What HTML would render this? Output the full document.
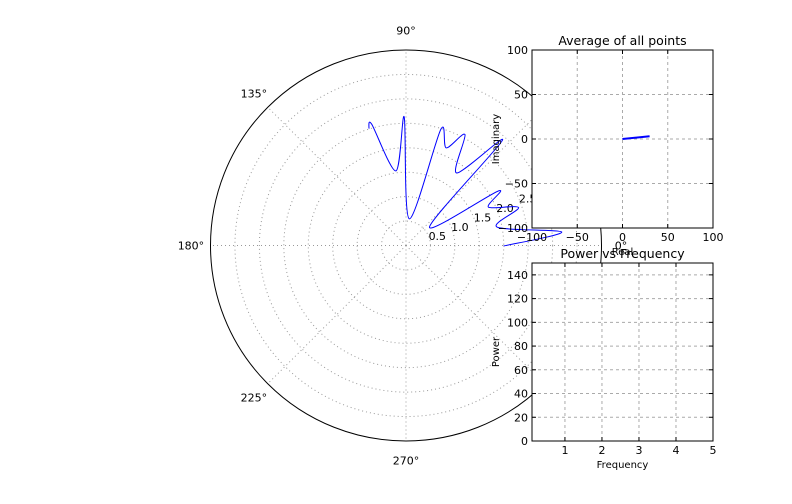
<!DOCTYPE html>
<html><head><meta charset="utf-8"><style>
html,body{margin:0;padding:0;background:#fff}
svg{display:block;font-family:"DejaVu Sans","Liberation Sans",sans-serif}
</style></head><body>
<svg id="chart" width="792" height="504" viewBox="0 0 792 504" xmlns="http://www.w3.org/2000/svg">
<rect width="792" height="504" fill="#fff"/>
<g id="polar"></g>
<g id="avg"></g>
<g id="power"></g>
</svg>
<script>
// Polar curve data (angle in degrees, radius)
const polarTheta = [-0.3, 4.9, 11.4, 18.6, 25, 30.5, 38, 47.5, 55, 62, 67.6, 73.3, 83, 90.8, 97.7, 105.8, 107.6];
const polarR = [2.0, 3.2, 1.9, 2.43, 1.86, 2.2, 0.61, 2.92, 1.81, 2.57, 2.16, 2.48, 0.55, 2.63, 1.54, 2.58, 2.51];
const radialTicks = [0.5, 1.0, 1.5, 2.0, 2.5, 3.0, 3.5];
const angleTicks = [0, 45, 90, 135, 180, 225, 270, 315];
// Average plot
const avgX = [0, 30];
const avgY = [0, 3];
const avgXTicks = [-100, -50, 0, 50, 100];
const avgYTicks = [-100, -50, 0, 50, 100];
// Power plot
const powXTicks = [1, 2, 3, 4, 5];
const powYTicks = [0, 20, 40, 60, 80, 100, 120, 140];

const NS = "http://www.w3.org/2000/svg";
function mk(parent, tag, attrs, text) {
  const e = document.createElementNS(NS, tag);
  for (const k in attrs) e.setAttribute(k, attrs[k]);
  if (text !== undefined) e.textContent = text;
  parent.appendChild(e);
  return e;
}

// ---------- Polar ----------
const P = document.getElementById('polar');
const cx = 406, cy = 245.5, R = 195.5, rMax = 4.0;
const pr = r => r / rMax * R;
function pxy(deg, r) { const a = deg * Math.PI / 180; return [cx + pr(r) * Math.cos(a), cy - pr(r) * Math.sin(a)]; }
radialTicks.forEach(t => {
  const c = mk(P, 'circle', {cx, cy, r: pr(t), fill: 'none', stroke: '#999', 'stroke-width': 1, 'stroke-dasharray': '1,3'});
  
  
});
angleTicks.forEach(a => {
  const [x, y] = pxy(a, rMax);
  const l = mk(P, 'line', {x1: cx, y1: cy, x2: x, y2: y, stroke: '#999', 'stroke-width': 1, 'stroke-dasharray': '1,3'});
  
  
});
const outer = mk(P, 'circle', {cx, cy, r: R, fill: 'none', stroke: '#000', 'stroke-width': 1});


angleTicks.forEach(a => {
  const [x, y] = pxy(a, rMax * 1.1);
  const t = mk(P, 'text', {x, y: y + 4, 'font-size': 11, 'text-anchor': 'middle', fill: '#000'}, a + '°');
  
  
});
radialTicks.forEach(t => {
  const [x, y] = pxy(22.5, t);
  const e = mk(P, 'text', {x: x, y: y + 4, 'font-size': 11, fill: '#000'}, t.toFixed(1));
  
  
});
const pts = polarTheta.map((a, i) => pxy(a, polarR[i]));
let d = 'M' + pts[0][0].toFixed(1) + ',' + pts[0][1].toFixed(1);
for (let i = 0; i < pts.length - 1; i++) {
  const p0 = pts[Math.max(0, i - 1)], p1 = pts[i], p2 = pts[i + 1], p3 = pts[Math.min(pts.length - 1, i + 2)];
  const k = 0.15;
  const c1 = [p1[0] + (p2[0] - p0[0]) * k, p1[1] + (p2[1] - p0[1]) * k];
  const c2 = [p2[0] - (p3[0] - p1[0]) * k, p2[1] - (p3[1] - p1[1]) * k];
  d += ' C' + c1.map(v => v.toFixed(1)).join(',') + ' ' + c2.map(v => v.toFixed(1)).join(',') + ' ' + p2.map(v => v.toFixed(1)).join(',');
}
const curve = mk(P, 'path', {d, fill: 'none', stroke: '#0000ff', 'stroke-width': 1});



// ---------- Cartesian helper ----------
function axes(g, box, xr, yr, xt, yt, title, xl, yl, xfmt, yfmt) {
  const sx = v => box.l + (v - xr[0]) / (xr[1] - xr[0]) * (box.r - box.l);
  const sy = v => box.b - (v - yr[0]) / (yr[1] - yr[0]) * (box.b - box.t);
  const bg = mk(g, 'rect', {x: box.l, y: box.t, width: box.r - box.l, height: box.b - box.t, fill: '#fff'});
  
  
  xt.forEach(v => {
    const x = sx(v);
    const gl = mk(g, 'line', {x1: x, y1: box.t, x2: x, y2: box.b, stroke: '#aaa', 'stroke-dasharray': '3,3'});
    
    
    mk(g, 'line', {x1: x, y1: box.b, x2: x, y2: box.b - 4, stroke: '#000'});
    mk(g, 'line', {x1: x, y1: box.t, x2: x, y2: box.t + 4, stroke: '#000'});
    const t = mk(g, 'text', {x, y: box.b + 13, 'font-size': 11, 'text-anchor': 'middle'}, xfmt(v));
    
    
  });
  yt.forEach(v => {
    const y = sy(v);
    const gl = mk(g, 'line', {x1: box.l, y1: y, x2: box.r, y2: y, stroke: '#aaa', 'stroke-dasharray': '3,3'});
    
    
    mk(g, 'line', {x1: box.l, y1: y, x2: box.l + 4, y2: y, stroke: '#000'});
    mk(g, 'line', {x1: box.r, y1: y, x2: box.r - 4, y2: y, stroke: '#000'});
    const t = mk(g, 'text', {x: box.l - 4, y: y + 4, 'font-size': 11, 'text-anchor': 'end'}, yfmt(v));
    
    
  });
  const fr = mk(g, 'rect', {x: box.l, y: box.t, width: box.r - box.l, height: box.b - box.t, fill: 'none', stroke: '#000'});
  
  
  const ti = mk(g, 'text', {x: (box.l + box.r) / 2, y: box.t - 5, 'font-size': 12.5, 'text-anchor': 'middle'}, title);
  
  
  const xlab = mk(g, 'text', {x: (box.l + box.r) / 2, y: box.b + 27, 'font-size': 10, 'text-anchor': 'middle'}, xl);
  
  
  const ym = (box.t + box.b) / 2;
  const ylab = mk(g, 'text', {x: box.l - 33, y: ym, 'font-size': 10, 'text-anchor': 'middle', transform: `rotate(-90 ${box.l - 33} ${ym})`}, yl);
  
  
  return {sx, sy};
}

// ---------- Average plot ----------
const A = document.getElementById('avg');
const ab = {l: 532, r: 713, t: 50, b: 228};
const as = axes(A, ab, [-100, 100], [-100, 100], avgXTicks, avgYTicks, 'Average of all points', 'Real', 'Imaginary', v => String(v).replace('-', '−'), v => String(v).replace('-', '−'));
const ad = avgX.map((v, i) => (i ? 'L' : 'M') + as.sx(v).toFixed(1) + ',' + as.sy(avgY[i]).toFixed(1)).join(' ');
const al = mk(A, 'path', {d: ad, fill: 'none', stroke: '#0000ff', 'stroke-width': 2});



// ---------- Power plot ----------
const W = document.getElementById('power');
const wb = {l: 532, r: 713, t: 263, b: 441};
axes(W, wb, [0.11, 5], [0, 150], powXTicks, powYTicks, 'Power vs Frequency', 'Frequency', 'Power', v => String(v), v => String(v));
</script>
</body></html>
